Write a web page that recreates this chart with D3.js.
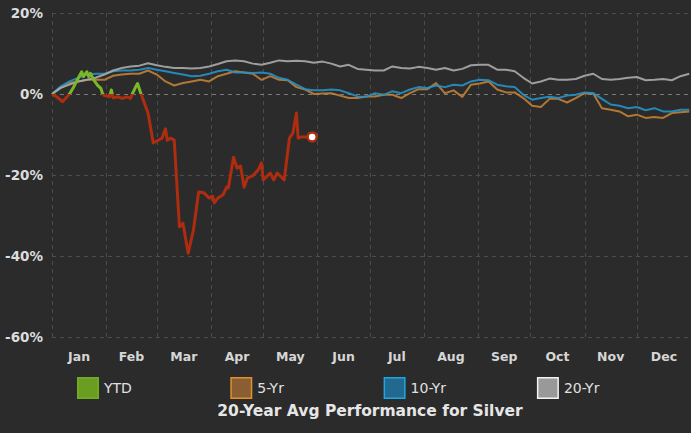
<!DOCTYPE html>
<html>
<head>
<meta charset="utf-8">
<script src="https://cdn.jsdelivr.net/npm/d3@7"></script>
<style>
  html, body { margin: 0; padding: 0; background: #2b2b2b; }
  svg { display: block; }
  text { font-family: "DejaVu Sans", Verdana, sans-serif; }
</style>
</head>
<body>
<svg id="chart"></svg>
<script>
// 月份与刻度
const months = ["Jan", "Feb", "Mar", "Apr", "May", "Jun", "Jul", "Aug", "Sep", "Oct", "Nov", "Dec"];
const yTicks = [20, 0, -20, -40, -60];

// averages, one value every 5 days from Jan 1
const avgDays = [0, 5, 10, 15, 20, 25, 30, 35, 40, 45, 50, 55, 60, 65, 70, 75, 80, 85, 90, 95,
  100, 105, 110, 115, 120, 125, 130, 135, 140, 145, 150, 155, 160, 165, 170, 175, 180, 185, 190, 195,
  200, 205, 210, 215, 220, 225, 230, 235, 240, 245, 250, 255, 260, 265, 270, 275, 280, 285, 290, 295,
  300, 305, 310, 315, 320, 325, 330, 335, 340, 345, 350, 355, 360, 365];

const fiveYr = [0, 1.5, 2.7, 3.1, 3.5, 3.5, 3.5, 4.5, 4.8, 5.0, 5.0, 5.8, 4.8, 3.1, 2.1, 2.7, 3.1, 3.5, 3.1, 4.4,
  5.0, 5.6, 5.3, 5.0, 3.5, 4.4, 3.5, 3.4, 1.7, 1.1, 0, 0.1, 0.2, -0.4, -1.0, -1.0, -0.6, -0.6, -0.2, -0.2,
  -1.0, 0.2, 1.2, 1.2, 2.7, 0.2, 0.9, -0.7, 2.3, 2.6, 3.1, 1.1, 0.4, 0.4, -1.0, -2.9, -3.2, -1.2, -1.2, -2.1,
  -1.0, 0.2, 0.1, -3.5, -3.9, -4.3, -5.5, -5.1, -5.9, -5.7, -5.9, -4.7, -4.5, -4.3];

const tenYr = [0, 1.9, 3.1, 4.0, 4.8, 5.0, 5.0, 5.6, 5.8, 5.8, 6.0, 6.4, 6.0, 5.6, 5.2, 4.8, 4.4, 4.5, 5.0, 5.6,
  6.0, 5.3, 5.3, 5.2, 5.3, 5.0, 4.0, 3.5, 2.3, 1.2, 0.9, 0.9, 1.1, 0.9, 0.2, -0.6, -0.7, 0.2, -0.2, 0.7,
  0.2, 1.1, 1.7, 1.5, 2.1, 1.7, 2.3, 2.1, 3.1, 3.5, 3.4, 2.3, 1.9, 1.7, -0.2, -1.4, -1.0, -0.7, -1.0, -0.4,
  -0.2, 0.4, 0.2, -1.2, -2.6, -2.9, -3.5, -3.2, -4.0, -3.5, -4.3, -4.3, -3.9, -3.9];

const twentyYr = [0, 1.5, 2.3, 3.1, 3.5, 4.0, 4.8, 5.8, 6.4, 6.8, 7.0, 7.6, 7.1, 6.7, 6.4, 6.4, 6.3, 6.4, 6.8, 7.4,
  8.1, 8.3, 8.1, 7.5, 7.2, 7.7, 8.3, 8.1, 8.2, 8.1, 7.7, 8.0, 7.5, 6.8, 7.2, 6.2, 6.0, 5.8, 5.8, 6.8,
  6.4, 6.3, 6.7, 6.4, 6.0, 6.4, 5.8, 6.2, 7.1, 7.2, 7.2, 6.0, 6.0, 5.6, 4.0, 2.6, 3.1, 3.8, 3.5, 3.5,
  3.7, 4.5, 5.0, 3.7, 3.5, 3.7, 4.0, 4.2, 3.4, 3.5, 3.7, 3.4, 4.4, 5.0];

// YTD
const ytdDays = [0, 3, 6, 9, 10, 12, 15, 17, 18, 20, 21, 22, 24, 26, 28, 29, 30, 33, 34, 35,
  38, 40, 43, 45, 46, 48, 49, 51, 55, 58, 63, 65, 66, 68, 70, 73, 75, 78, 81, 84,
  87, 90, 92, 93, 95, 98, 100, 101, 104, 106, 108, 110, 112, 115, 118, 120, 121, 125, 127, 129,
  133, 136, 138, 140, 141, 143, 149];
const ytdValues = [0, -0.8, -1.9, -0.5, 0, 1.4, 3.9, 5.5, 4.3, 5.5, 4.3, 5.1, 3.4, 2.2, 1.4, 0, -0.4, -0.7, 1.0, -0.9,
  -0.7, -1.1, -0.7, -1.1, 0, 1.8, 2.6, 0, -4.7, -12.1, -10.9, -8.6, -11.4, -10.9, -11.4, -32.8, -31.9, -39.3, -33.6, -24.2,
  -24.4, -25.7, -25.2, -26.9, -25.7, -24.9, -23.0, -23.2, -15.6, -18.3, -17.8, -23.0, -20.7, -20.2, -18.8, -17.0, -21.2, -19.5, -21.2, -19.5,
  -21.2, -10.9, -9.6, -4.7, -10.9, -10.6, -10.6];

const legendItems = [
  { name: "YTD", fill: "#6a9e22", stroke: "#72ad22" },
  { name: "5-Yr", fill: "#8a5e32", stroke: "#e0902e" },
  { name: "10-Yr", fill: "#21698f", stroke: "#22a6e2" },
  { name: "20-Yr", fill: "#999999", stroke: "#f2f2f2" }
];

const width = 691, height = 433;
const margin = { top: 13, right: 0, bottom: 96, left: 52 };
const svg = d3.select("#chart").attr("width", width).attr("height", height);

svg.append("rect").attr("width", width).attr("height", height).attr("fill", "#2b2b2b");

const start = new Date(2020, 0, 1);
const end = new Date(2021, 0, 1);
const dayToDate = d => d3.timeDay.offset(start, d);

const x = d3.scaleTime().domain([start, end]).range([margin.left, width - margin.right]);
const y = d3.scaleLinear().domain([-60, 20]).range([height - margin.bottom, margin.top]);

// 网格
const monthStarts = d3.timeMonth.range(start, end);
svg.append("g").selectAll("line")
  .data(monthStarts)
  .join("line")
  .attr("x1", d => Math.round(x(d)) + 0.5)
  .attr("x2", d => Math.round(x(d)) + 0.5)
  .attr("y1", y(20))
  .attr("y2", y(-60))
  .attr("stroke", "#4c4c4c")
  .attr("stroke-dasharray", "4,4");

svg.append("g").selectAll("line")
  .data(yTicks)
  .join("line")
  .attr("x1", margin.left)
  .attr("x2", width - margin.right)
  .attr("y1", d => Math.round(y(d)) + 0.5)
  .attr("y2", d => Math.round(y(d)) + 0.5)
  .attr("stroke", d => d === 0 ? "#7a7a7a" : "#4c4c4c")
  .attr("stroke-dasharray", "4,4");

// y axis labels
svg.append("g").selectAll("text")
  .data(yTicks)
  .join("text")
  .attr("x", 43)
  .attr("y", d => y(d) + 5)
  .attr("text-anchor", "end")
  .attr("fill", "#dcdcdc")
  .attr("font-size", 13.5)
  .attr("font-weight", "bold")
  .text(d => d + "%");

// month labels centred in each month
svg.append("g").selectAll("text")
  .data(monthStarts)
  .join("text")
  .attr("x", d => (x(d) + x(d3.timeMonth.offset(d, 1))) / 2)
  .attr("y", 361)
  .attr("text-anchor", "middle")
  .attr("fill", "#d6d6d6")
  .attr("font-size", 12.5)
  .attr("font-weight", "bold")
  .text((d, i) => months[i]);

const line = d3.line()
  .x(d => x(dayToDate(d[0])))
  .y(d => y(d[1]));

const avgSeries = [
  { values: fiveYr, color: "#c27f36" },
  { values: tenYr, color: "#2592c6" },
  { values: twentyYr, color: "#ababab" }
];

svg.append("g").selectAll("path")
  .data(avgSeries)
  .join("path")
  .attr("d", s => line(avgDays.map((d, i) => [d, s.values[i]])))
  .attr("fill", "none")
  .attr("stroke", s => s.color)
  .attr("stroke-width", 2)
  .attr("stroke-opacity", 0.9)
  .attr("stroke-linejoin", "round");

// YTD: green above 0, red below 0
const ytd = ytdDays.map((d, i) => [d, ytdValues[i]]);
const defs = svg.append("defs");
defs.append("clipPath").attr("id", "above")
  .append("rect").attr("x", 0).attr("y", 0).attr("width", width).attr("height", y(0));
defs.append("clipPath").attr("id", "below")
  .append("rect").attr("x", 0).attr("y", y(0)).attr("width", width).attr("height", height - y(0));

svg.append("path")
  .attr("d", line(ytd))
  .attr("fill", "none")
  .attr("stroke", "#78b82a")
  .attr("stroke-width", 3)
  .attr("stroke-linejoin", "round")
  .attr("clip-path", "url(#above)");

svg.append("path")
  .attr("d", line(ytd))
  .attr("fill", "none")
  .attr("stroke", "#ae2c0f")
  .attr("stroke-width", 3)
  .attr("stroke-linejoin", "round")
  .attr("clip-path", "url(#below)");

const last = ytd[ytd.length - 1];
svg.append("circle")
  .attr("cx", x(dayToDate(last[0])))
  .attr("cy", y(last[1]))
  .attr("r", 4.5)
  .attr("fill", "#ffffff")
  .attr("stroke", "#ae2c0f")
  .attr("stroke-width", 2.5);

// legend
const legend = svg.append("g").selectAll("g")
  .data(legendItems)
  .join("g")
  .attr("transform", (d, i) => `translate(${77 + i * 153.3},377)`);

legend.append("rect")
  .attr("x", 0.75).attr("y", 0.75)
  .attr("width", 20.5).attr("height", 20.5)
  .attr("fill", d => d.fill)
  .attr("stroke", d => d.stroke)
  .attr("stroke-width", 1.5);

legend.append("text")
  .attr("x", 27)
  .attr("y", 16)
  .attr("fill", "#e0e0e0")
  .attr("font-size", 14)
  .text(d => d.name);

svg.append("text")
  .attr("x", 370)
  .attr("y", 416)
  .attr("text-anchor", "middle")
  .attr("fill", "#e6e6e6")
  .attr("font-size", 15.5)
  .attr("font-weight", "bold")
  .text("20-Year Avg Performance for Silver");
</script>
</body>
</html>
